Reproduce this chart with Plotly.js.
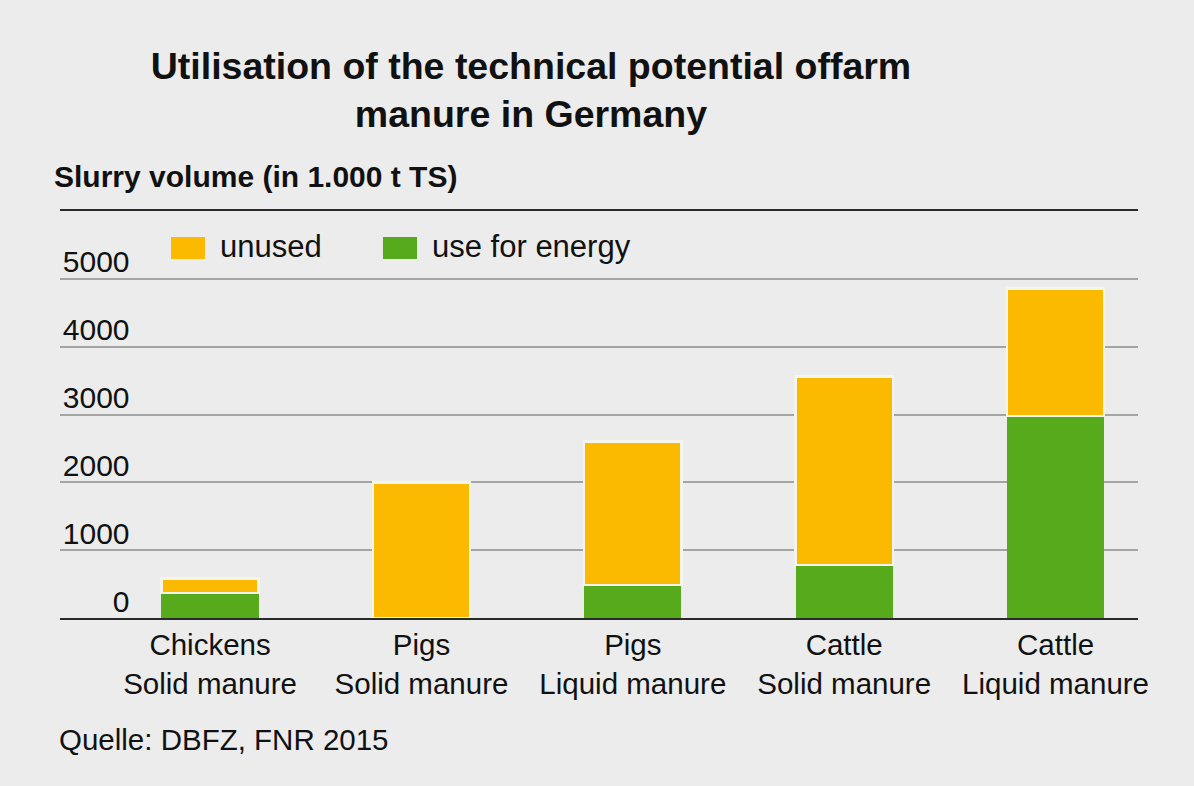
<!DOCTYPE html>
<html>
<head>
<meta charset="utf-8">
<script src="https://cdn.plot.ly/plotly-3.0.1.min.js"></script>
<style>
  html, body { margin: 0; padding: 0; background: #ebeceb; }
  #chart { width: 1194px; height: 786px; }
</style>
</head>
<body>
<div id="chart"></div>
<script>
// ---- data ----
const categories = [
  "Chickens<br>Solid manure",
  "Pigs<br>Solid manure",
  "Pigs<br>Liquid manure",
  "Cattle<br>Solid manure",
  "Cattle<br>Liquid manure"
];
const useForEnergy = [365, 0, 490, 780, 2980];
const unused = [215, 2000, 2110, 2780, 1880];
const seriesNames = ["unused", "use for energy"];
const yTickVals = [0, 1000, 2000, 3000, 4000, 5000];
const yTickText = ["0", "1000", "2000", "3000", "4000", "5000"];
const titleText = "Utilisation of the technical potential offarm<br>manure in Germany";
const yTitleText = "Slurry volume (in 1.000 t TS)";
const sourceText = "Quelle: DBFZ, FNR 2015";

// ---- style ----
const ORANGE = "#fbba00";
const GREEN = "#56aa1c";
const BG = "#ebeceb";
const FONT = "Liberation Sans, Arial, Helvetica, sans-serif";

const traces = [
  {
    type: "bar",
    name: seriesNames[1],
    x: categories,
    y: useForEnergy,
    marker: { color: GREEN },
    showlegend: false,
    hoverinfo: "y+name"
  },
  {
    type: "bar",
    name: seriesNames[0],
    x: categories,
    y: unused,
    marker: { color: ORANGE, line: { color: "#f5f5ec", width: 2.5 } },
    showlegend: false,
    hoverinfo: "y+name"
  }
];

const layout = {
  width: 1194,
  height: 786,
  paper_bgcolor: BG,
  plot_bgcolor: BG,
  barmode: "stack",
  bargap: 0.54,
  margin: { l: 60, r: 56, t: 211, b: 168, pad: 0 },
  font: { family: FONT, color: "#111111", size: 29 },
  title: {
    text: titleText,
    x: 0.4447,
    xref: "container",
    xanchor: "center",
    y: 0.9,
    yref: "container",
    yanchor: "top",
    font: { family: FONT, size: 37.5, color: "#111111", weight: "bold" }
  },
  xaxis: {
    type: "category",
    range: [-0.71, 4.39],
    showline: true,
    mirror: true,
    linecolor: "#2a2a2a",
    linewidth: 2,
    showgrid: false,
    ticks: "",
    tickfont: { family: FONT, size: 29.5, color: "#111111" },
    fixedrange: true
  },
  yaxis: {
    range: [0, 6000],
    tickvals: yTickVals,
    ticktext: yTickText,
    showgrid: true,
    gridcolor: "#a4a4a4",
    gridwidth: 2,
    zeroline: false,
    showline: false,
    ticks: "",
    anchor: "free",
    position: 0.0645,
    ticklabelposition: "outside",
    ticklabelshift: -17,
    tickfont: { family: FONT, size: 30, color: "#111111" },
    fixedrange: true
  },
  shapes: [
    { type: "rect", xref: "paper", yref: "paper", x0: 0.103, x1: 0.1345, y0: 0.882, y1: 0.936,
      fillcolor: ORANGE, line: { width: 0 } },
    { type: "rect", xref: "paper", yref: "paper", x0: 0.2996, x1: 0.3312, y0: 0.882, y1: 0.936,
      fillcolor: GREEN, line: { width: 0 } }
  ],
  annotations: [
    { text: seriesNames[0], xref: "paper", yref: "paper", x: 0.147, y: 0.912,
      xanchor: "left", yanchor: "middle", showarrow: false,
      font: { family: FONT, size: 31, color: "#111111" } },
    { text: seriesNames[1], xref: "paper", yref: "paper", x: 0.343, y: 0.912,
      xanchor: "left", yanchor: "middle", showarrow: false,
      font: { family: FONT, size: 31, color: "#111111" } },
    { text: yTitleText, xref: "paper", yref: "paper", x: -0.0075, y: 1.0858,
      xanchor: "left", yanchor: "middle", showarrow: false,
      font: { family: FONT, size: 30, color: "#111111", weight: "bold" } },
    { text: sourceText, xref: "paper", yref: "paper", x: -0.0025, y: -0.299,
      xanchor: "left", yanchor: "middle", showarrow: false,
      font: { family: FONT, size: 29.5, color: "#111111" } }
  ]
};

Plotly.newPlot("chart", traces, layout, { displayModeBar: false, staticPlot: true });
</script>
</body>
</html>
